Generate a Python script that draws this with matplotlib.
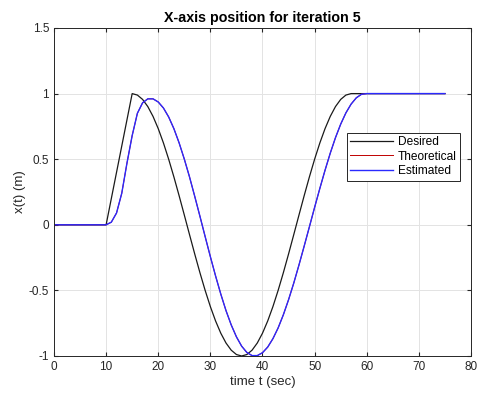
import matplotlib
matplotlib.use("Agg")
import matplotlib.pyplot as plt

plt.rcParams['font.family'] = ['Liberation Sans', 'DejaVu Sans']

# time samples (sec)
t = list(range(0, 76))

desired = [0] * 11 + [0.2, 0.4, 0.6, 0.8, 1.0,
    0.9888, 0.9556, 0.9010, 0.8262, 0.7330, 0.6235, 0.5, 0.3653, 0.2225, 0.0747,
    -0.0747, -0.2225, -0.3653, -0.5, -0.6235, -0.7330, -0.8262, -0.9010, -0.9556, -0.9888,
    -1.0, -0.9888, -0.9556, -0.9010, -0.8262, -0.7330, -0.6235, -0.5, -0.3653, -0.2225,
    -0.0747, 0.0747, 0.2225, 0.3653, 0.5, 0.6235, 0.7330, 0.8262, 0.9010, 0.9556,
    0.9888, 1.0] + [1.0] * 18

estimated = [0] * 11 + [0.02, 0.09, 0.24, 0.47, 0.68, 0.85, 0.93, 0.96, 0.96,
    0.936, 0.890, 0.822, 0.733, 0.625, 0.501, 0.365, 0.217, 0.065, -0.090,
    -0.243, -0.390, -0.528, -0.654, -0.763, -0.854, -0.925, -0.973, -0.997, -0.997,
    -0.975, -0.932, -0.868, -0.786, -0.686, -0.571, -0.444, -0.306, -0.162, -0.015,
    0.133, 0.277, 0.416, 0.546, 0.664, 0.767, 0.853, 0.920, 0.968, 0.995,
    1.0] + [1.0] * 15

theoretical = list(estimated)  # lies under the estimated curve

fig = plt.figure(figsize=(4.79, 4.0), dpi=100)
ax = fig.add_axes([0.1127, 0.11, 0.8706, 0.82])

ax.plot(t, desired, color='#1a1a1a', lw=0.9, label='Desired')
ax.plot(t, theoretical, color='#c00000', lw=0.7, label='Theoretical')
ax.plot(t, estimated, color='#2a2aff', lw=1.0, label='Estimated')

ax.set_xlim(0, 80)
ax.set_ylim(-1, 1.5)
ax.set_xticks(range(0, 81, 10))
ax.set_yticks([-1, -0.5, 0, 0.5, 1, 1.5])
ax.set_yticklabels(['-1', '-0.5', '0', '0.5', '1', '1.5'])
ax.grid(True, color='#e3e3e3', lw=0.7)
ax.set_axisbelow(True)
ax.tick_params(direction='in', length=3, labelsize=8.5, colors='#262626',
               top=True, right=True, labeltop=False, labelright=False)
for s in ax.spines.values():
    s.set_color('#262626')
    s.set_linewidth(0.7)

ax.set_title('X-axis position for iteration 5', fontsize=10.3, fontweight='bold', pad=4)
ax.set_xlabel('time t (sec)', fontsize=9.5, color='#262626', labelpad=2)
ax.set_ylabel('x(t) (m)', fontsize=9.5, color='#262626', labelpad=2)

leg = ax.legend(loc='upper right', bbox_to_anchor=(0.989, 0.699), fontsize=8.6,
                fancybox=False, framealpha=1, edgecolor='#262626',
                handlelength=3.6, borderpad=0.3, labelspacing=0.2, handletextpad=0.4)
leg.get_frame().set_linewidth(0.7)

fig.savefig('out.png', dpi=100)
